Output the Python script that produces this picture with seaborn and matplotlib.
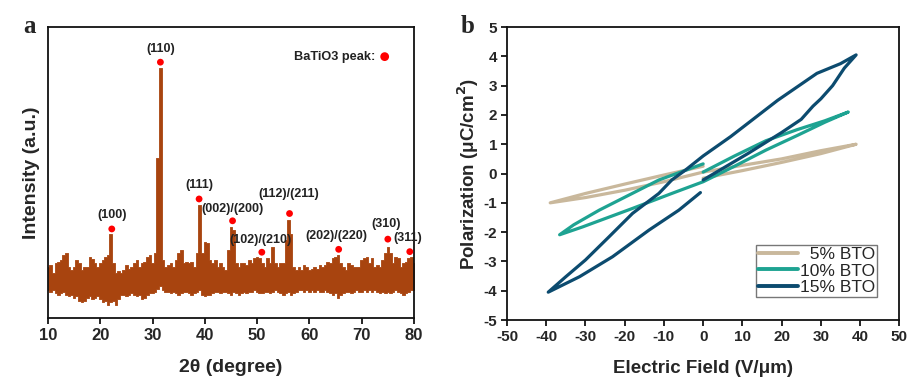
import numpy as np
import pandas as pd
import matplotlib
matplotlib.use("Agg")
import matplotlib.pyplot as plt
import seaborn as sns

# ---- panel a: XRD pattern (0.5 deg steps, arbitrary units)
two_theta = np.arange(10, 80.01, 0.5)
upper = [17.6, 18.2, 15.3, 18.8, 19.4, 20.0, 21.6, 22.2, 17.6, 16.5,
         17.6, 20.0, 18.8, 16.5, 17.6, 17.6, 20.8, 20.2, 18.8, 17.6,
         18.8, 20.0, 21.0, 21.6, 29.0, 18.8, 15.3, 16.0, 15.3, 16.5,
         18.2, 17.0, 17.6, 18.8, 20.0, 17.6, 18.8, 19.4, 21.0, 21.6,
         18.8, 22.2, 55.0, 85.8, 20.0, 17.6, 18.2, 18.8, 17.6, 20.0,
         22.2, 23.4, 18.8, 19.4, 18.8, 19.4, 17.6, 22.2, 38.8, 22.2,
         26.2, 25.7, 20.0, 18.8, 20.0, 17.6, 18.8, 17.6, 16.5, 23.4,
         31.4, 30.2, 18.8, 17.6, 18.8, 18.8, 18.2, 20.0, 18.8, 20.5,
         21.0, 20.5, 18.8, 17.6, 20.5, 18.8, 24.5, 18.8, 17.6, 18.8,
         18.8, 26.8, 33.7, 29.0, 17.6, 16.5, 17.6, 16.5, 18.2, 17.6,
         16.5, 17.0, 17.6, 17.0, 18.2, 17.6, 18.2, 19.4, 18.8, 20.5,
         21.0, 21.6, 18.8, 17.6, 16.5, 18.8, 18.2, 17.6, 17.6, 17.6,
         20.0, 20.5, 21.0, 18.8, 20.5, 17.6, 18.2, 17.6, 20.0, 22.2,
         24.5, 22.2, 18.8, 21.0, 20.5, 17.6, 18.8, 19.4, 20.5, 21.0,
         18.8]
lower = [9.5, 9.0, 9.5, 8.5, 8.0, 8.5, 9.0, 8.0, 7.5, 8.0,
         7.0, 7.5, 6.0, 5.5, 6.0, 7.0, 7.5, 6.5, 7.0, 7.5,
         6.5, 5.5, 6.0, 4.5, 5.5, 6.0, 4.5, 6.5, 8.0, 8.0,
         7.5, 8.0, 8.5, 8.0, 7.5, 8.0, 6.5, 7.0, 8.0, 8.5,
         8.5, 9.0, 10.0, 11.0, 9.5, 9.0, 9.0, 8.5, 9.0, 8.5,
         8.0, 8.5, 9.0, 9.0, 8.5, 8.0, 8.5, 9.0, 9.5, 8.0,
         7.5, 8.0, 8.0, 8.5, 9.0, 9.0, 8.5, 9.0, 9.0, 8.5,
         8.0, 9.0, 8.5, 8.0, 8.5, 9.0, 8.5, 9.0, 9.0, 9.5,
         9.0, 8.5, 8.5, 9.0, 9.0, 8.5, 9.0, 9.5, 9.0, 8.5,
         8.0, 8.5, 9.0, 8.0, 8.5, 9.0, 9.5, 9.5, 9.0, 9.5,
         9.0, 9.5, 9.0, 9.5, 9.0, 9.0, 9.5, 9.0, 8.5, 8.0,
         8.5, 7.0, 8.0, 8.5, 9.0, 9.0, 8.5, 9.0, 9.5, 9.0,
         9.0, 9.5, 9.0, 9.5, 9.0, 9.5, 9.0, 8.5, 9.0, 8.5,
         9.0, 8.5, 9.0, 9.5, 9.0, 8.5, 8.0, 8.5, 9.0, 9.5,
         9.5]

peak_labels = ["(100)", "(110)", "(111)", "(002)/(200)", "(102)/(210)",
               "(112)/(211)", "(202)/(220)", "(310)", "(311)"]
peak_x = [22.2, 31.5, 38.9, 45.3, 50.9, 56.2, 65.6, 75.0, 79.2]
peak_y = [30.6, 87.9, 40.9, 33.4, 22.6, 35.9, 23.6, 27.1, 22.8]
label_x = [22.2, 31.5, 39.0, 45.2, 50.7, 56.0, 65.2, 74.6, 78.9]
label_y = [35.4, 92.4, 45.7, 37.5, 26.8, 42.5, 28.2, 32.3, 27.4]

# ---- panel b: P-E loops (E in V/um, P in uC/cm2)
e_5 = [0, 10, 20, 30, 39, 30, 20, 10, 0, -10, -20, -30, -39, -30, -20, -10, 0]
p_5 = [-0.16, 0.10, 0.38, 0.68, 1.00, 0.78, 0.50, 0.28, 0.05, -0.28, -0.57, -0.82,
       -1.00, -0.68, -0.36, -0.05, 0.25]
e_10 = [0, 8, 16, 24, 31, 37, 31, 24, 16, 8, 0, -8, -18, -30.7, -36.6,
        -33, -26.5, -11.3, 0]
p_10 = [0.05, 0.60, 1.12, 1.50, 1.80, 2.10, 1.75, 1.30, 0.80, 0.25, -0.28, -0.68,
        -1.19, -1.82, -2.09, -1.75, -1.25, -0.22, 0.33]
e_15 = [0, 11.5, 20, 25, 28, 30, 33, 36, 39, 35, 29, 19, 7, 0, -4.5, -8, -11.3,
        -18, -24, -30, -35, -39.5, -31.5, -23.1, -13.8, -6.2, -0.7]
p_15 = [-0.22, 0.69, 1.40, 1.85, 2.30, 2.55, 3.00, 3.60, 4.05, 3.75, 3.42, 2.50,
        1.26, 0.60, 0.12, -0.22, -0.68, -1.36, -2.16, -2.95, -3.52, -4.05,
        -3.52, -2.84, -1.93, -1.25, -0.65]
series = ["  5% BTO", "10% BTO", "15% BTO"]
colors = ["#c9b89c", "#1ea392", "#0c4b6f"]

sns.set_theme(style="ticks")
plt.rcParams["font.family"] = ["Liberation Sans", "DejaVu Sans"]
plt.rcParams["font.weight"] = "bold"
plt.rcParams["axes.unicode_minus"] = False

fig = plt.figure(figsize=(9.09, 3.78), dpi=100)
ax1 = fig.add_axes([0.0528, 0.1587, 0.4026, 0.770])
ax2 = fig.add_axes([0.5578, 0.1534, 0.4315, 0.775])

# panel a
brown = "#a8440f"
ax1.fill_between(two_theta, lower, upper, step="mid", color=brown, lw=0.6,
                 edgecolor=brown)
sns.scatterplot(x=peak_x, y=peak_y, ax=ax1, color="#ff0000", s=24, edgecolor="none",
                zorder=5)
for lab, lx, ly in zip(peak_labels, label_x, label_y):
    ax1.text(lx, ly, lab, ha="center", va="center", fontsize=9, fontweight="bold",
             color="#222222", zorder=6)
ax1.text(72.6, 89.6, "BaTiO3 peak:", ha="right", va="center", fontsize=9.2,
         fontweight="bold", color="#222222")
sns.scatterplot(x=[74.4], y=[89.8], ax=ax1, color="#ff0000", s=40, edgecolor="none")
ax1.set_xlim(10, 80)
ax1.set_ylim(0, 100)
ax1.set_xticks(range(10, 81, 10))
ax1.set_yticks([])
ax1.set_xlabel("2θ (degree)", fontsize=14, fontweight="bold", labelpad=12)
ax1.set_ylabel("Intensity (a.u.)", fontsize=14, fontweight="bold", labelpad=6)
ax1.tick_params(axis="x", labelsize=12, direction="out", length=4, width=1.2,
                color="black", pad=3)

# panel b
for name, e, p, c in zip(series, [e_5, e_10, e_15], [p_5, p_10, p_15], colors):
    df = pd.DataFrame({"E": e, "P": p})
    sns.lineplot(data=df, x="E", y="P", ax=ax2, sort=False, estimator=None,
                 color=c, lw=2.3, label=name)
ax2.set_xlim(-50, 50)
ax2.set_ylim(-5, 5)
ax2.set_xticks(range(-50, 51, 10))
ax2.set_yticks(range(-5, 6, 1))
ax2.set_xlabel("Electric Field (V/μm)", fontsize=13.5, fontweight="bold", labelpad=12)
ax2.set_ylabel("Polarization (μC/cm$^\\mathbf{2}$)", fontsize=13.5, fontweight="bold",
               labelpad=2)
ax2.tick_params(labelsize=11, direction="out", length=4, width=1.2, color="black",
                pad=3)
leg = ax2.legend(loc="lower right", bbox_to_anchor=(0.942, 0.078), fontsize=12.5,
                 frameon=True, fancybox=False, handlelength=2.3, handletextpad=0.1,
                 borderpad=0.1, labelspacing=0.1, borderaxespad=0.0)
leg.get_frame().set_edgecolor("#555555")
leg.get_frame().set_linewidth(1.0)
for t in leg.get_texts():
    t.set_fontweight("normal")
for line in leg.get_lines():
    line.set_linewidth(2.8)

for ax in (ax1, ax2):
    for sp in ax.spines.values():
        sp.set_visible(True)
        sp.set_color("#111111")
        sp.set_linewidth(1.3)
    for lab in ax.get_xticklabels() + ax.get_yticklabels():
        lab.set_fontweight("bold")

fig.text(0.032, 0.93, "a", fontsize=18, fontweight="bold", family="Liberation Serif",
         ha="center", va="center")
fig.text(0.514, 0.93, "b", fontsize=18, fontweight="bold", family="Liberation Serif",
         ha="center", va="center")

fig.savefig("out.png", dpi=100)
